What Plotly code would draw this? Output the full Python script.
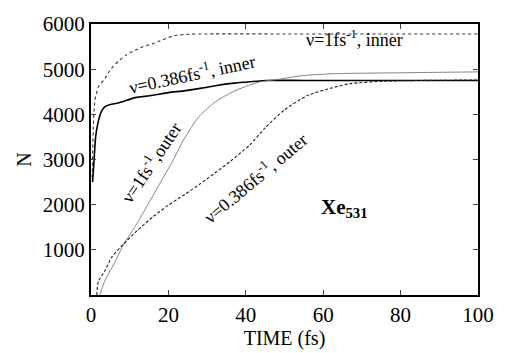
import plotly.graph_objects as go

# nu = 1 fs^-1, inner
t_1_inner = [0.3, 0.6, 1.0, 2.0, 3.6, 5.0, 7.0, 9.0, 11.4, 13.5, 15.8, 18.5, 21, 24.3, 30, 50, 75, 100]
n_1_inner = [2600, 3700, 4310, 4620, 4790, 4990, 5170, 5310, 5420, 5500, 5560, 5650, 5730, 5770, 5780, 5780, 5780, 5780]

# nu = 0.386 fs^-1, inner
t_386_inner = [0.4, 0.8, 1.2, 1.8, 2.6, 3.6, 5.0, 7.0, 11.4, 15.2, 20, 24, 28.6, 32.5, 37, 41, 45.5, 55, 75, 100]
n_386_inner = [2500, 3000, 3500, 3810, 4050, 4170, 4220, 4250, 4370, 4410, 4480, 4520, 4580, 4640, 4690, 4720, 4750, 4750, 4750, 4750]

# nu = 1 fs^-1, outer
t_1_outer = [2.3, 3.5, 6.0, 8.3, 12, 15, 18, 21, 24, 28, 32.5, 37.7, 43.7, 48, 55, 63, 80, 100]
n_1_outer = [0, 300, 700, 1100, 1600, 2050, 2500, 2950, 3450, 3960, 4300, 4540, 4720, 4770, 4860, 4900, 4920, 4940]

# nu = 0.386 fs^-1, outer
t_386_outer = [1.5, 1.9, 3.5, 5.3, 8.3, 12, 16, 20, 24.3, 28, 32, 36, 41, 45, 50, 56, 62, 67, 75, 85, 100]
n_386_outer = [0, 300, 520, 830, 1120, 1430, 1730, 1990, 2230, 2450, 2700, 2960, 3320, 3700, 4100, 4420, 4580, 4680, 4730, 4750, 4760]

x_ticks = [0, 20, 40, 60, 80, 100]
y_ticks = [1000, 2000, 3000, 4000, 5000, 6000]

font = "Liberation Serif"

fig = go.Figure()
fig.add_trace(go.Scatter(x=t_1_inner, y=n_1_inner, mode="lines",
                         line=dict(color="#333", width=1.1, dash="dot", shape="spline", smoothing=0.6)))
fig.add_trace(go.Scatter(x=t_386_inner, y=n_386_inner, mode="lines",
                         line=dict(color="black", width=1.6, shape="spline", smoothing=0.6)))
fig.add_trace(go.Scatter(x=t_1_outer, y=n_1_outer, mode="lines",
                         line=dict(color="#777", width=0.9, shape="spline", smoothing=0.6)))
fig.add_trace(go.Scatter(x=t_386_outer, y=n_386_outer, mode="lines",
                         line=dict(color="#222", width=1.1, dash="3px,2px", shape="spline", smoothing=0.6)))

annots = [
    dict(x=68, y=5690, text="ν=1fs<sup>-1</sup>, inner", textangle=0),
    dict(x=26.2, y=4900, text="ν=0.386fs<sup>-1</sup>, inner", textangle=-12),
    dict(x=15.4, y=2930, text="ν=1fs<sup>-1</sup>,outer", textangle=-56),
    dict(x=42.5, y=2600, text="ν=0.386fs<sup>-1</sup>, outer", textangle=-40),
]
for a in annots:
    fig.add_annotation(x=a["x"], y=a["y"], text=a["text"], textangle=a["textangle"],
                       showarrow=False, font=dict(family=font, size=18, color="black"))
fig.add_annotation(x=65.6, y=1920, text="<b>Xe<sub>531</sub></b>", showarrow=False,
                   font=dict(family=font, size=21, color="black"))

fig.update_layout(
    width=507, height=353,
    margin=dict(l=91, r=29, t=13, b=53),
    paper_bgcolor="white", plot_bgcolor="white",
    showlegend=False,
    font=dict(family=font, size=21, color="black"),
    xaxis=dict(range=[0, 100], tickvals=x_ticks, ticks="inside", ticklen=5,
               showline=True, linecolor="black", linewidth=2, mirror="ticks",
               showgrid=False, zeroline=False, tickfont=dict(size=21),
               title=dict(text="TIME (fs)", standoff=0, font=dict(size=20))),
    yaxis=dict(range=[0, 6000], tickvals=y_ticks, ticks="inside", ticklen=5,
               showline=True, linecolor="black", linewidth=2, mirror="ticks",
               showgrid=False, zeroline=False, tickfont=dict(size=21),
               title=dict(text="N", standoff=6, font=dict(size=20))),
)

fig.write_html("out.html")
